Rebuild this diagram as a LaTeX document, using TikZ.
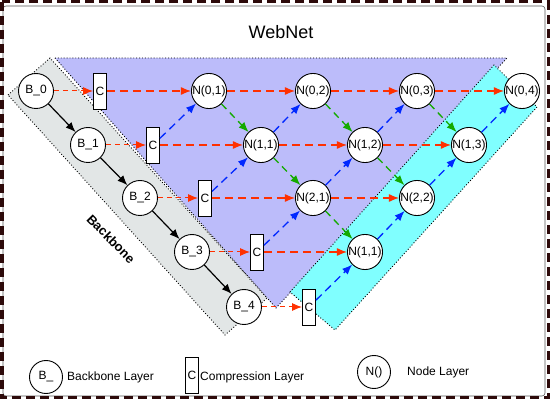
\documentclass[tikz,border=0pt]{standalone}
\usepackage{fontspec}
\setmainfont{Liberation Sans}
\usetikzlibrary{arrows.meta}
\definecolor{framec}{RGB}{45,10,10}
\definecolor{bandgray}{RGB}{226,230,230}
\definecolor{purp}{RGB}{188,188,250}
\definecolor{cyanband}{RGB}{128,255,255}
\definecolor{redar}{RGB}{255,48,0}
\definecolor{bluear}{RGB}{0,40,255}
\definecolor{greenar}{RGB}{20,170,0}
\begin{document}
\begin{tikzpicture}[x=1pt,y=-1pt,
  font=\fontsize{12}{14}\selectfont,
  round/.style={circle, draw, fill=white, minimum size=35pt, inner sep=0pt, line width=0.9pt},
  cbox/.style={rectangle, draw, fill=white, minimum width=13pt, minimum height=36pt, inner sep=0pt, line width=0.9pt},
  region/.style={draw=black, dotted, line width=0.9pt},
  blk/.style={-{Latex[length=10pt,width=8pt]}, line width=1.2pt},
  redshort/.style={draw=redar, dash pattern=on 5pt off 4pt, line width=1pt, -{Latex[length=10pt,width=8pt]}},
  redlong/.style={draw=redar, dash pattern=on 8pt off 5pt, line width=1.3pt, -{Latex[length=10pt,width=8pt]}},
  bluel/.style={draw=bluear, dash pattern=on 8pt off 5pt, line width=1.3pt, -{Latex[length=10pt,width=8pt]}},
  greenl/.style={draw=greenar, dash pattern=on 7pt off 5pt, line width=1.3pt, -{Latex[length=10pt,width=8pt]}},
  lbl/.style={anchor=west, inner sep=0pt}
]
\useasboundingbox (0,0) rectangle (550,401);
% frame
\draw[gray!70!black, line width=0.6pt, rounded corners=3pt] (3,6) rectangle (545,396);
\draw[framec, line width=3pt, dash pattern=on 9pt off 5pt] (2,2) rectangle (548,398);

% title
\node[font=\fontsize{18}{20}\selectfont] (title) at (281,32) {WebNet};

% regions
\path[fill=purp] (55,58) -- (507,58) -- (276,308) -- cycle;
\draw[region] (55,58) -- (507,58) -- (276,308) -- cycle;
\path[fill=bandgray] (8,95) -- (50,58) -- (267,298) -- (225,335) -- cycle;
\draw[region] (8,95) -- (50,58) -- (267,298) -- (225,335) -- cycle;
\path[fill=cyanband] (290,292) -- (494,65) -- (537,107) -- (335,330) -- cycle;
\draw[region] (290,292) -- (494,65) -- (537,107) -- (335,330) -- cycle;

\node[font=\bfseries\fontsize{13}{15}\selectfont, rotate=-45.5] (bbl) at (111,239) {Backbone};

% backbone nodes
\node[round] (b0) at (36,91) {B\_0};
\node[round] (b1) at (88,145) {B\_1};
\node[round] (b2) at (140,198) {B\_2};
\node[round] (b3) at (192,252) {B\_3};
\node[round] (b4) at (244,307) {B\_4};
% compression
\node[cbox] (c0) at (100,91) {C};
\node[cbox] (c1) at (153,145) {C};
\node[cbox] (c2) at (205,198) {C};
\node[cbox] (c3) at (257,252) {C};
\node[cbox] (c4) at (309,307) {C};
% web nodes
\node[round] (n01) at (209,91) {N(0,1)};
\node[round] (n02) at (313,91) {N(0,2)};
\node[round] (n03) at (417,91) {N(0,3)};
\node[round] (n04) at (522,91) {N(0,4)};
\node[round] (n11) at (261,145) {N(1,1)};
\node[round] (n12) at (365,145) {N(1,2)};
\node[round] (n13) at (469,145) {N(1,3)};
\node[round] (n21) at (313,198) {N(2,1)};
\node[round] (n22) at (417,198) {N(2,2)};
\node[round] (n31) at (365,252) {N(1,1)};

% backbone arrows
\draw[blk] (b0) -- (b1);
\draw[blk] (b1) -- (b2);
\draw[blk] (b2) -- (b3);
\draw[blk] (b3) -- (b4);
% B to C
\draw[redshort] (b0) -- (c0);
\draw[redshort] (b1) -- (c1);
\draw[redshort] (b2) -- (c2);
\draw[redshort] (b3) -- (c3);
\draw[redshort] (b4) -- (c4);
% red horizontals
\draw[redlong] (c0) -- (n01);
\draw[redlong] (n01) -- (n02);
\draw[redlong] (n02) -- (n03);
\draw[redlong] (n03) -- (n04);
\draw[redlong] (c1) -- (n11);
\draw[redlong] (n11) -- (n12);
\draw[redlong] (n12) -- (n13);
\draw[redlong] (c2) -- (n21);
\draw[redlong] (n21) -- (n22);
\draw[redlong] (c3) -- (n31);
% blue up-right
\draw[bluel] (c1) -- (n01);
\draw[bluel] (c2) -- (n11);
\draw[bluel] (c3) -- (n21);
\draw[bluel] (c4) -- (n31);
\draw[bluel] (n11) -- (n02);
\draw[bluel] (n21) -- (n12);
\draw[bluel] (n31) -- (n22);
\draw[bluel] (n12) -- (n03);
\draw[bluel] (n22) -- (n13);
\draw[bluel] (n13) -- (n04);
% green down-right
\draw[greenl] (n01) -- (n11);
\draw[greenl] (n11) -- (n21);
\draw[greenl] (n21) -- (n31);
\draw[greenl] (n02) -- (n12);
\draw[greenl] (n12) -- (n22);
\draw[greenl] (n03) -- (n13);

% legend
\node[round, minimum size=33pt] (lb) at (46,377) {B\_};
\node[lbl] (lbt) at (67,377) {Backbone Layer};
\node[cbox] (lc) at (192,375) {C};
\node[lbl] (lct) at (200,377) {Compression Layer};
\node[round, minimum size=33pt] (ln) at (374,372) {N()};
\node[lbl] (lnt) at (407,372) {Node Layer};
\end{tikzpicture}
\end{document}
